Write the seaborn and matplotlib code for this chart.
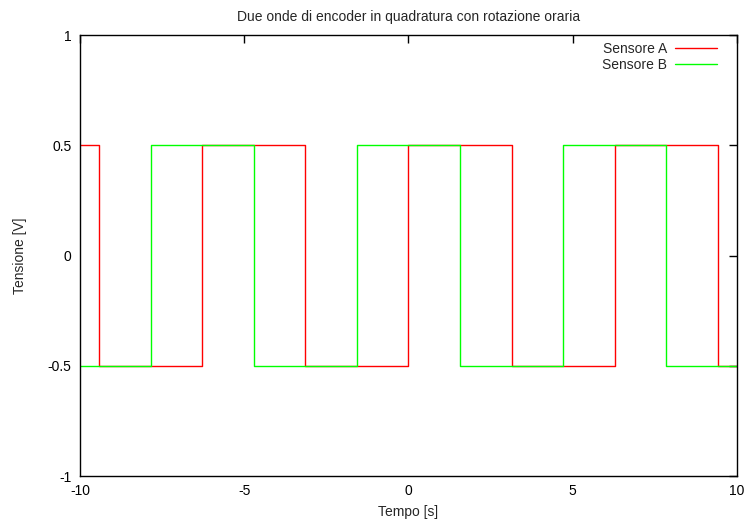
import matplotlib as mpl

mpl.use('Agg')
import matplotlib.pyplot as plt
import seaborn as sns
import pandas as pd

## Data: switching instants of the two square waves
tempo_a = [-10, -9.42, -6.28, -3.14, 0.0, 3.14, 6.28, 9.42, 10]
tensione_a = [0.5, -0.5, 0.5, -0.5, 0.5, -0.5, 0.5, -0.5, -0.5]
tempo_b = [-10, -7.85, -4.71, -1.57, 1.57, 4.71, 7.85, 10]
tensione_b = [-0.5, 0.5, -0.5, 0.5, -0.5, 0.5, -0.5, -0.5]

x_ticks = [-10, -5, 0, 5, 10]
y_ticks = [-1, -0.5, 0, 0.5, 1]
y_labels = ['-1', '-0.5', '0', '0.5', '1']

df_a = pd.DataFrame({'Tempo': tempo_a, 'Tensione': tensione_a})
df_b = pd.DataFrame({'Tempo': tempo_b, 'Tensione': tensione_b})

sns.set_style('white')
plt.rcParams['font.family'] = ['Liberation Sans', 'DejaVu Sans']
plt.rcParams['font.size'] = 10

fig = plt.figure(figsize=(7.46, 5.25), dpi=100)
ax = fig.add_axes([0.1072, 0.0933, 0.8807, 0.8400])

sns.lineplot(data=df_a, x='Tempo', y='Tensione', ax=ax, color='#ff0000', lw=1,
             drawstyle='steps-post', label='Sensore A', sort=False)
sns.lineplot(data=df_b, x='Tempo', y='Tensione', ax=ax, color='#00ff00', lw=1,
             drawstyle='steps-post', label='Sensore B', sort=False)

ax.set_xlim(-10, 10)
ax.set_ylim(-1, 1)
ax.set_xticks(x_ticks)
ax.set_xticklabels([str(t) for t in x_ticks])
ax.set_yticks(y_ticks)
ax.set_yticklabels(y_labels)
ax.tick_params(direction='in', length=6, width=1, top=True, right=True,
               labelsize=10, colors='black', pad=6)
for s in ax.spines.values():
    s.set_color('black')
    s.set_linewidth(1)
    s.set_visible(True)

ax.set_xlabel('Tempo [s]', fontsize=10, labelpad=5)
ax.set_ylabel('Tensione [V]', fontsize=10, labelpad=15)
ax.set_title('Due onde di encoder in quadratura con rotazione oraria', fontsize=10, pad=10)

leg = ax.legend(loc='upper right', bbox_to_anchor=(0.982, 1.004), frameon=False,
                markerfirst=False, fontsize=10, handlelength=3.0,
                handletextpad=0.6, labelspacing=0.15, borderaxespad=0.2)

fig.savefig('out.png', dpi=100)
